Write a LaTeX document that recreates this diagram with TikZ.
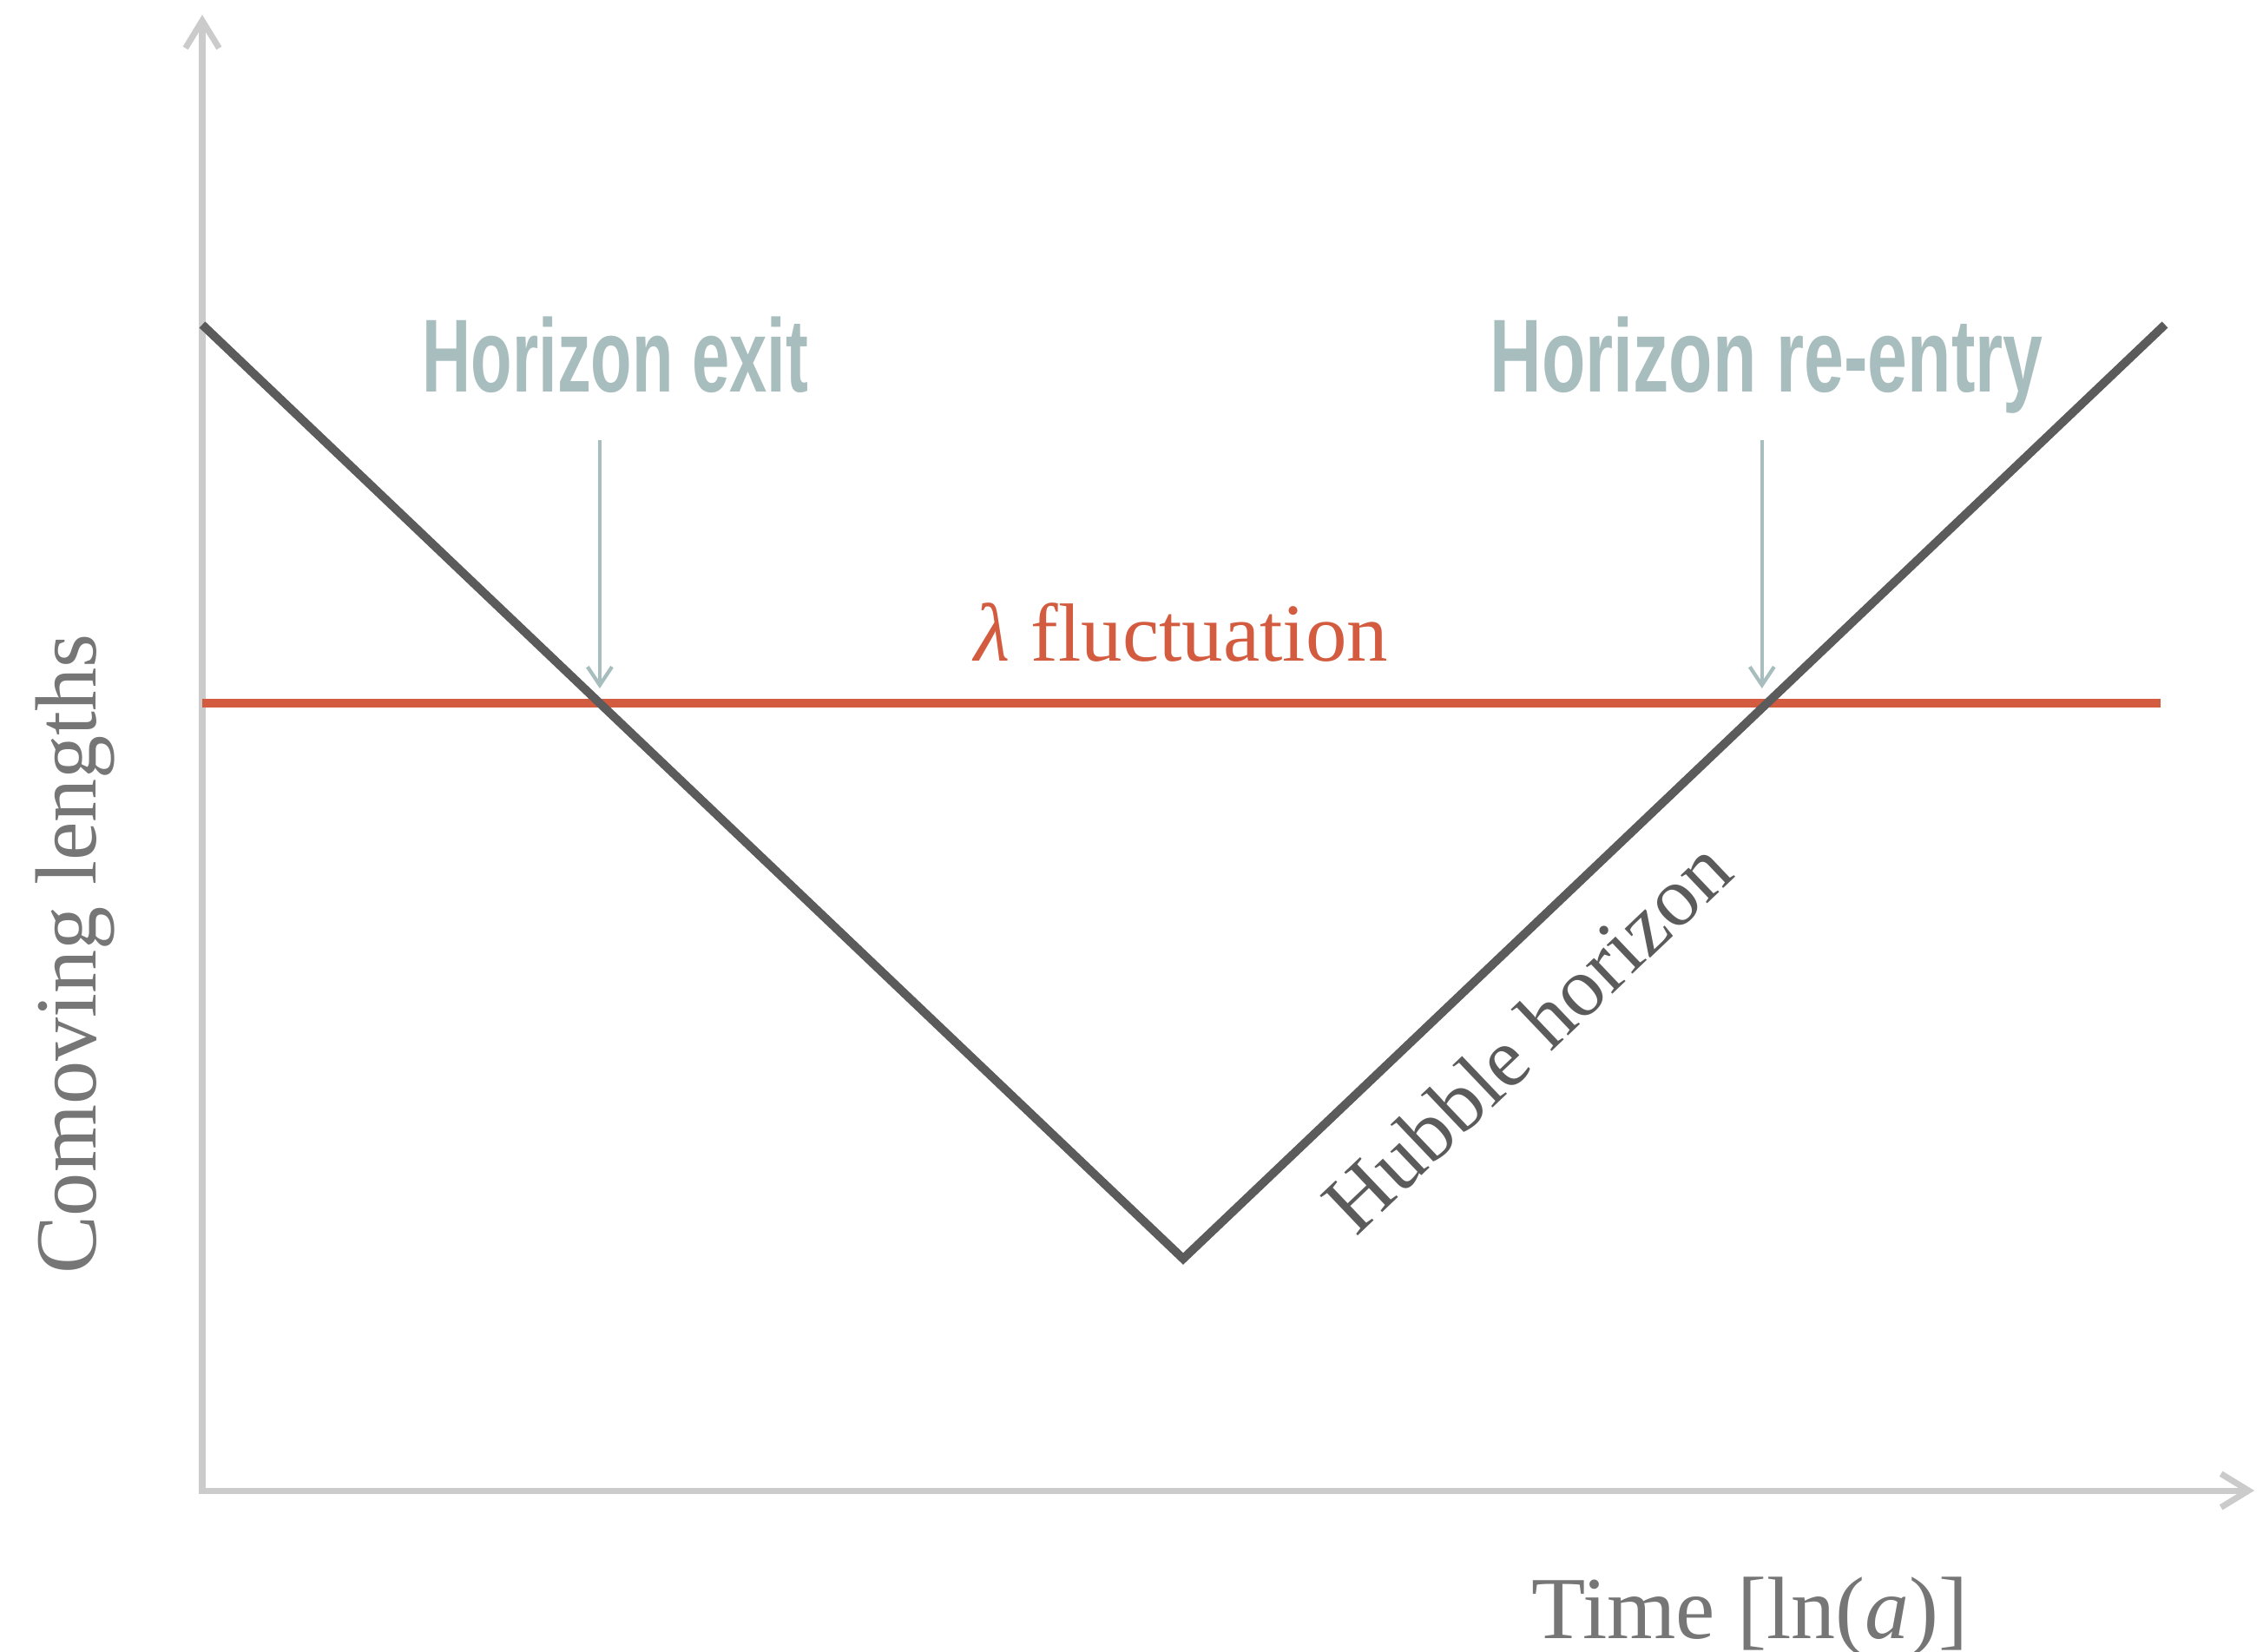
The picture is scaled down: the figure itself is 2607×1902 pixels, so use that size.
\documentclass[tikz,border=0pt]{standalone}
\usepackage{fontspec}
\usetikzlibrary{arrows.meta, positioning, calc}
\newfontfamily\garfont{Liberation Serif}
\newfontfamily\dinexit[FakeStretch=0.65]{Liberation Sans}
\newfontfamily\dinentry[FakeStretch=0.69]{Liberation Sans}
\definecolor{axisgray}{HTML}{CBCBCB}
\definecolor{hubblegray}{HTML}{5B5B5B}
\definecolor{flucred}{HTML}{D35B3F}
\definecolor{tealgray}{HTML}{A8BDBD}
\definecolor{labelgray}{HTML}{767676}

\begin{document}
\begin{tikzpicture}[
    x=0.01cm, y=-0.01cm,
    >={Straight Barb[length=9pt, width=11pt]},
    axis/.style={draw=axisgray, line width=2pt},
    hubble/.style={draw=hubblegray, line width=2.8pt},
    mode/.style={draw=flucred, line width=2.8pt},
    pointer/.style={draw=tealgray, line width=1.2pt,
                    -{Straight Barb[length=6pt, width=8pt]},
                    shorten <=0.56cm, shorten >=0.17cm},
    hlabel/.style={text=tealgray, inner sep=0pt, anchor=base},
    slabel/.style={font=\garfont\fontsize{28.5}{34}\selectfont,
                   text=labelgray, inner sep=0pt, anchor=base}
  ]
  \useasboundingbox (0,0) rectangle (2607,1902);

  % Axes
  \coordinate (origin) at (233,1717);
  \coordinate (ytip) at (233,17);
  \coordinate (xtip) at (2597,1717);
  \draw[axis, <->] (ytip) -- (origin) -- (xtip);

  % Fluctuation scale and Hubble horizon
  \coordinate (modeL) at (233,810);
  \coordinate (modeR) at (2489,810);
  \coordinate (hstart) at (233,374);
  \coordinate (hmin) at (1363,1450);
  \coordinate (hend) at (2494,374);
  \draw[mode] (modeL) -- (modeR);
  \draw[hubble] (hstart) -- (hmin) -- (hend);

  \coordinate (exitpt) at (intersection of hstart--hmin and modeL--modeR);
  \coordinate (entrypt) at (intersection of hmin--hend and modeL--modeR);

  % Labels
  \node[hlabel, font=\dinexit\bfseries\fontsize{34}{40}\selectfont]
    (exit) at (709,451) {Horizon exit};
  \node[hlabel, font=\dinentry\bfseries\fontsize{34}{40}\selectfont]
    (entry) at (2035,451) {Horizon re-entry};
  \draw[pointer] (exitpt |- exit.base) -- (exitpt);
  \draw[pointer] ([xshift=-0.06cm]entrypt |- entry.base) -- ([xshift=-0.06cm]entrypt);

  \node[slabel, text=flucred, font=\garfont\fontsize{27}{32}\selectfont]
    (modelbl) at (1361,761) {\textit{λ} fluctuation};
  \node[slabel, text=hubblegray, font=\garfont\fontsize{27.5}{33}\selectfont,
        rotate=43.6] (hublbl) at ($(hmin)!0.297!(hend)!1.2cm!-90:(hend)$)
    {Hubble horizon};
  \node[slabel, font=\garfont\fontsize{29}{35}\selectfont]
    (timelbl) at (2016,1887) {Time [ln(\textit{a})]};
  \node[slabel, rotate=90] (lenlbl) at (110,1099) {Comoving lengths};
\end{tikzpicture}
\end{document}
